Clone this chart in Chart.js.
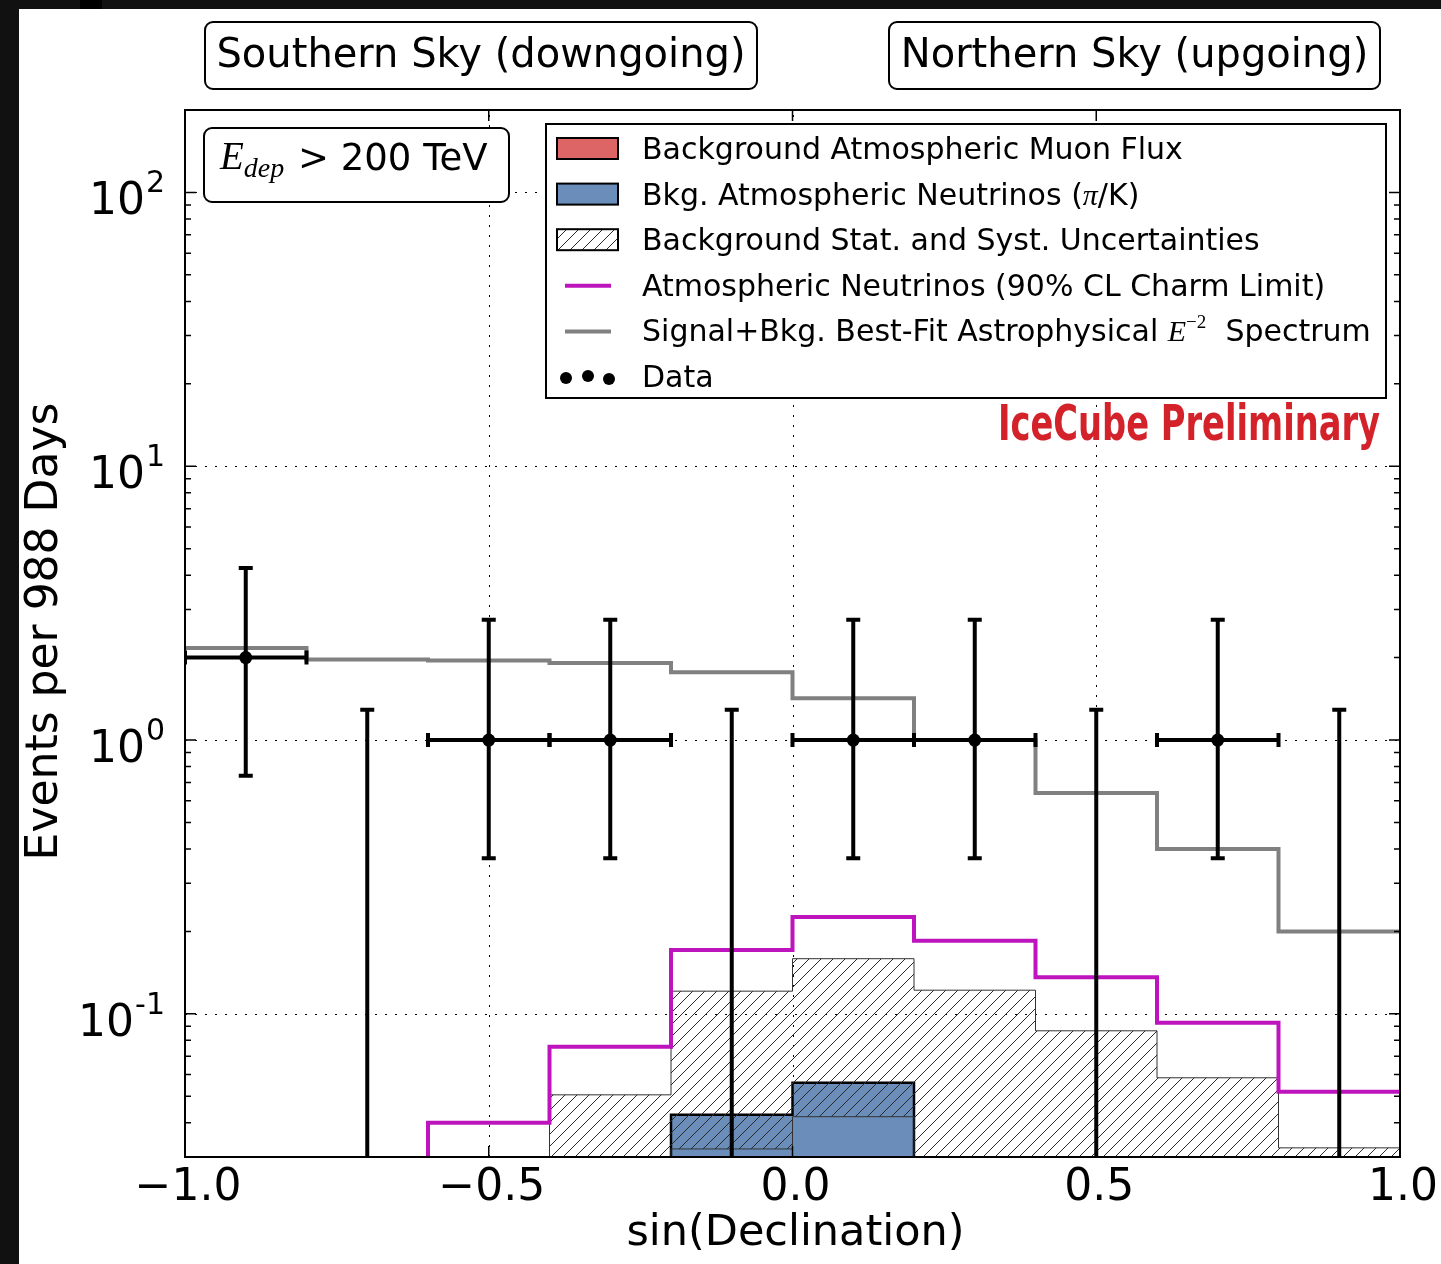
<!DOCTYPE html>
<html>
<head>
<meta charset="utf-8">
<title>Events per 988 Days vs sin(Declination)</title>
<script src="https://cdn.jsdelivr.net/npm/chart.js@4.4.0/dist/chart.umd.min.js"></script>
<style>
  body { margin: 0; background: #111; width: 1441px; height: 1264px; overflow: hidden; position: relative; }
  #tab { position: absolute; left: 80px; top: 0; width: 22px; height: 9px; background: #000; }
  #wrap { position: absolute; left: 19px; top: 9px; width: 1422px; height: 1255px; background: #fff; }
  canvas { display: block; }
</style>
</head>
<body>
<div id="tab"></div>
<div id="wrap"><canvas id="chart_div" width="1422" height="1255"></canvas></div>
<script>
// bins in sin(declination), 10 bins of 0.2
var binEdges = [-1.0, -0.8, -0.6, -0.4, -0.2, 0.0, 0.2, 0.4, 0.6, 0.8, 1.0];

// expected events per bin (values under 0.03 sit below the plotted range)
var muonFlux   = [0, 0, 0, 0, 0, 0, 0, 0, 0, 0];
var atmNuPiK   = [0.004, 0.005, 0.007, 0.012, 0.0428, 0.056, 0.024, 0.016, 0.011, 0.008];
var bkgErrLow  = [0.003, 0.004, 0.005, 0.01, 0.0321, 0.0421, 0.015, 0.011, 0.008, 0.005];
var bkgErrHigh = [0.008, 0.012, 0.02, 0.0506, 0.121, 0.159, 0.122, 0.0867, 0.0584, 0.0324];
var charmLimit = [0.012, 0.02, 0.040, 0.0758, 0.171, 0.226, 0.185, 0.136, 0.0927, 0.0519];
var bestFitE2  = [2.17, 1.97, 1.95, 1.91, 1.77, 1.42, 1.0, 0.64, 0.40, 0.20];

// observed events with 68% Feldman-Cousins intervals
var dataCenters = [-0.9, -0.7, -0.5, -0.3, -0.1, 0.1, 0.3, 0.5, 0.7, 0.9];
var dataCounts  = [2, 0, 1, 1, 0, 1, 1, 0, 1, 0];
var dataErrLow  = [0.74, 0, 0.37, 0.37, 0, 0.37, 0.37, 0, 0.37, 0];
var dataErrHigh = [4.25, 1.29, 2.75, 2.75, 1.29, 2.75, 2.75, 1.29, 2.75, 1.29];

var xTickValues = [-1.0, -0.5, 0.0, 0.5, 1.0];
var xTickLabels = ['\u22121.0', '\u22120.5', '0.0', '0.5', '1.0'];
var yTickValues = [0.1, 1, 10, 100];
var yTickExps   = ['-1', '0', '1', '2'];

var yMin = 0.03, yMax = 200;
var SANS = '"DejaVu Sans", sans-serif';
var SERIF = '"Liberation Serif", "DejaVu Serif", serif';

// one point per left edge plus the closing edge; 'before' keeps each value over its own bin
function toSteps(vals){
  var pts = [];
  for (var i = 0; i < vals.length; i++) pts.push({x: binEdges[i], y: vals[i]});
  pts.push({x: binEdges[vals.length], y: vals[vals.length - 1]});
  return pts;
}

function makeHatch(){
  var c = document.createElement('canvas');
  c.width = 12; c.height = 12;
  var g = c.getContext('2d');
  g.strokeStyle = '#2a2a2a';
  g.lineWidth = 1;
  g.beginPath();
  g.moveTo(0, 12); g.lineTo(12, 0);
  g.moveTo(-6, 6); g.lineTo(6, -6);
  g.moveTo(6, 18); g.lineTo(18, 6);
  g.stroke();
  return g.createPattern(c, 'repeat');
}

function roundBox(c, x, y, w, h, r){
  c.beginPath();
  c.moveTo(x + r, y);
  c.arcTo(x + w, y, x + w, y + h, r);
  c.arcTo(x + w, y + h, x, y + h, r);
  c.arcTo(x, y + h, x, y, r);
  c.arcTo(x, y, x + w, y, r);
  c.closePath();
}

// draws text pieces one after another (for math bits)
function drawRuns(c, x, y, runs){
  for (var i = 0; i < runs.length; i++){
    var r = runs[i];
    c.font = r.font;
    c.fillText(r.text, x, y - (r.rise || 0));
    x += c.measureText(r.text).width;
  }
  return x;
}

var hatch = makeHatch();

var dataPoints = dataCenters.map(function(x, i){
  return {x: x, y: dataCounts[i] > 0 ? dataCounts[i] : null};
});

var gridPlugin = {
  id: 'dottedGrid',
  beforeDatasetsDraw: function(chart){
    var c = chart.ctx, ca = chart.chartArea;
    var xs = chart.scales.x, ys = chart.scales.y;
    c.save();
    c.strokeStyle = '#000';
    c.lineWidth = 1;
    c.setLineDash([2, 8]);
    xTickValues.forEach(function(v){
      var px = Math.round(xs.getPixelForValue(v)) + 0.5;
      if (px <= ca.left + 1 || px >= ca.right - 1) return;
      c.beginPath(); c.moveTo(px, ca.bottom); c.lineTo(px, ca.top); c.stroke();
    });
    yTickValues.forEach(function(v){
      var py = Math.round(ys.getPixelForValue(v)) + 0.5;
      c.beginPath(); c.moveTo(ca.left, py); c.lineTo(ca.right, py); c.stroke();
    });
    c.restore();
  }
};

var errorBarPlugin = {
  id: 'errorBars',
  afterDatasetsDraw: function(chart){
    var c = chart.ctx, ca = chart.chartArea;
    var xs = chart.scales.x, ys = chart.scales.y;
    var cap = 7, half = (binEdges[1] - binEdges[0]) / 2;
    c.save();
    c.beginPath(); c.rect(ca.left, ca.top, ca.right - ca.left, ca.bottom - ca.top); c.clip();
    c.strokeStyle = '#000';
    c.lineWidth = 4;
    c.lineCap = 'butt';
    for (var i = 0; i < dataCenters.length; i++){
      var px = xs.getPixelForValue(dataCenters[i]);
      var yTop = ys.getPixelForValue(dataErrHigh[i]);
      var yBot = dataErrLow[i] > 0 ? ys.getPixelForValue(dataErrLow[i]) : ca.bottom + 4;
      c.beginPath();
      c.moveTo(px, yBot); c.lineTo(px, yTop);
      c.moveTo(px - cap, yTop); c.lineTo(px + cap, yTop);
      if (dataErrLow[i] > 0){ c.moveTo(px - cap, yBot); c.lineTo(px + cap, yBot); }
      if (dataCounts[i] > 0){
        var yc = ys.getPixelForValue(dataCounts[i]);
        var xl = xs.getPixelForValue(dataCenters[i] - half);
        var xr = xs.getPixelForValue(dataCenters[i] + half);
        c.moveTo(xl, yc); c.lineTo(xr, yc);
        c.moveTo(xl, yc - cap); c.lineTo(xl, yc + cap);
        c.moveTo(xr, yc - cap); c.lineTo(xr, yc + cap);
      }
      c.stroke();
    }
    c.restore();
  }
};

var decorPlugin = {
  id: 'decor',
  afterDraw: function(chart){
    var c = chart.ctx, ca = chart.chartArea;
    var xs = chart.scales.x, ys = chart.scales.y;
    var ds = chart.data.datasets;
    c.save();

    // frame and inward ticks
    c.strokeStyle = '#000';
    c.lineWidth = 1.5;
    c.beginPath();
    ys.ticks.forEach(function(t){
      var py = ys.getPixelForValue(t.value);
      var len = t.major ? 11 : 6;
      c.moveTo(ca.left, py); c.lineTo(ca.left + len, py);
      c.moveTo(ca.right, py); c.lineTo(ca.right - len, py);
    });
    xTickValues.forEach(function(v){
      var px = xs.getPixelForValue(v);
      c.moveTo(px, ca.bottom); c.lineTo(px, ca.bottom - 11);
      c.moveTo(px, ca.top); c.lineTo(px, ca.top + 11);
    });
    c.stroke();
    c.lineWidth = 2;
    c.strokeRect(ca.left, ca.top, ca.right - ca.left, ca.bottom - ca.top);

    // tick labels
    c.fillStyle = '#000';
    c.textBaseline = 'alphabetic';
    c.textAlign = 'right';
    yTickValues.forEach(function(v, i){
      var py = ys.getPixelForValue(v);
      var xr = ca.left - 20;
      c.font = '30px ' + SANS;
      c.fillText(yTickExps[i], xr, py);
      var ew = c.measureText(yTickExps[i]).width;
      c.font = '44px ' + SANS;
      c.fillText('10', xr - ew - 1, py + 22);
    });
    c.textAlign = 'center';
    c.font = '44px ' + SANS;
    xTickValues.forEach(function(v, i){
      c.fillText(xTickLabels[i], xs.getPixelForValue(v) + 3, ca.bottom + 43);
    });

    // axis titles
    c.font = '43px ' + SANS;
    c.fillText('sin(Declination)', (ca.left + ca.right) / 2 + 3, ca.bottom + 88);
    c.save();
    c.translate(38, (ca.top + ca.bottom) / 2 - 2);
    c.rotate(-Math.PI / 2);
    c.font = '44px ' + SANS;
    c.fillText('Events per 988 Days', 0, 0);
    c.restore();

    // hemisphere boxes above the plot
    c.lineWidth = 2;
    c.font = '40px ' + SANS;
    [['Southern Sky (downgoing)', ca.left + 20, 552], ['Northern Sky (upgoing)', ca.left + 704, 491]].forEach(function(b){
      roundBox(c, b[1], 13, b[2], 67, 8);
      c.fillStyle = '#fff'; c.fill(); c.stroke();
      c.fillStyle = '#000';
      c.fillText(b[0], b[1] + b[2] / 2, 58);
    });

    // energy cut box
    roundBox(c, ca.left + 19, ca.top + 18, 305, 74, 8);
    c.fillStyle = '#fff'; c.fill(); c.stroke();
    c.fillStyle = '#000';
    c.textAlign = 'left';
    var ex = drawRuns(c, ca.left + 35, ca.top + 59, [
      {text: 'E', font: 'italic 39px ' + SERIF},
      {text: 'dep', font: 'italic 28px ' + SERIF, rise: -8}
    ]);
    c.font = '37px ' + SANS;
    c.fillText(' > 200 TeV', ex + 2, ca.top + 60);

    // legend
    var lx = ca.left + 361, ly = ca.top + 14, lw = 840, lh = 274;
    c.fillStyle = '#fff';
    c.fillRect(lx, ly, lw, lh);
    c.lineWidth = 2;
    c.strokeRect(lx, ly, lw, lh);
    var rows = [
      {kind: 'patch', fill: ds[0].backgroundColor, runs: [{text: 'Background Atmospheric Muon Flux'}]},
      {kind: 'patch', fill: ds[1].backgroundColor, runs: [{text: 'Bkg. Atmospheric Neutrinos ('}, {text: '\u03c0', font: 'italic 30px ' + SERIF}, {text: '/K)'}]},
      {kind: 'patch', fill: ds[3].backgroundColor, runs: [{text: 'Background Stat. and Syst. Uncertainties'}]},
      {kind: 'line', color: ds[4].borderColor, runs: [{text: 'Atmospheric Neutrinos (90% CL Charm Limit)'}]},
      {kind: 'line', color: ds[5].borderColor, runs: [{text: 'Signal+Bkg. Best-Fit Astrophysical '}, {text: 'E', font: 'italic 30px ' + SERIF}, {text: '\u22122', font: '19px ' + SERIF, rise: 13}, {text: '  Spectrum'}]},
      {kind: 'dots', runs: [{text: 'Data'}]}
    ];
    rows.forEach(function(r, i){
      var base = ly + 35 + i * 45.6;
      var hx = lx + 11;
      if (r.kind === 'patch'){
        c.fillStyle = '#fff';
        c.fillRect(hx, base - 21, 61, 21);
        c.fillStyle = r.fill;
        c.fillRect(hx, base - 21, 61, 21);
        c.lineWidth = 2;
        c.strokeStyle = '#000';
        c.strokeRect(hx, base - 21, 61, 21);
      } else if (r.kind === 'line'){
        c.strokeStyle = r.color;
        c.lineWidth = 4;
        c.beginPath(); c.moveTo(hx + 8, base - 10); c.lineTo(hx + 54, base - 10); c.stroke();
      } else {
        c.fillStyle = '#000';
        [[hx + 9, base - 9], [hx + 31, base - 11], [hx + 52, base - 8]].forEach(function(p){
          c.beginPath(); c.arc(p[0], p[1], 6, 0, Math.PI * 2); c.fill();
        });
      }
      c.fillStyle = '#000';
      drawRuns(c, lx + 96, base, r.runs.map(function(u){
        return {text: u.text, font: u.font || ('30px ' + SANS), rise: u.rise};
      }));
    });

    // preliminary tag
    var tag = 'IceCube Preliminary';
    c.font = 'bold 49px "Liberation Sans Narrow", "DejaVu Sans Condensed", sans-serif';
    var tw = c.measureText(tag).width;
    c.save();
    c.translate(ca.right - 402, ca.top + 330);
    c.scale(382 / tw, 1);
    c.fillStyle = '#d3222a';
    c.fillText(tag, 0, 0);
    c.restore();

    c.restore();
  }
};

var ctx = document.getElementById('chart_div').getContext('2d');
var chart = new Chart(ctx, {
  type: 'line',
  data: {
    datasets: [
      {label: 'Background Atmospheric Muon Flux', data: toSteps(muonFlux), stepped: 'before', fill: 'start',
       backgroundColor: '#de6565', borderColor: '#000', borderWidth: 0, pointRadius: 0, order: 7},
      {label: 'Bkg. Atmospheric Neutrinos (pi/K)', data: toSteps(atmNuPiK), stepped: 'before', fill: 'start',
       backgroundColor: '#6a8eb9', borderColor: '#000', borderWidth: 2.5, pointRadius: 0, order: 6},
      {label: 'uncertainty low', data: toSteps(bkgErrLow), stepped: 'before', fill: false,
       borderColor: '#333', borderWidth: 1, pointRadius: 0, order: 5},
      {label: 'Background Stat. and Syst. Uncertainties', data: toSteps(bkgErrHigh), stepped: 'before', fill: '-1',
       backgroundColor: hatch, borderColor: '#333', borderWidth: 1, pointRadius: 0, order: 4},
      {label: 'Atmospheric Neutrinos (90% CL Charm Limit)', data: toSteps(charmLimit), stepped: 'before', fill: false,
       borderColor: '#bd14bd', borderWidth: 4, pointRadius: 0, order: 3},
      {label: 'Signal+Bkg. Best-Fit Astrophysical E^-2 Spectrum', data: toSteps(bestFitE2), stepped: 'before', fill: false,
       borderColor: '#808080', borderWidth: 4, pointRadius: 0, order: 2},
      {label: 'Data', data: dataPoints, showLine: false, pointRadius: 6.5, pointBackgroundColor: '#000',
       pointBorderWidth: 0, order: 1}
    ]
  },
  options: {
    responsive: false,
    animation: false,
    layout: {padding: {left: 0, right: 41, top: 101, bottom: 0}},
    plugins: {legend: {display: false}, tooltip: {enabled: false}},
    scales: {
      x: {
        type: 'linear', min: -1, max: 1,
        ticks: {display: false, stepSize: 0.5},
        grid: {display: false},
        border: {display: false},
        afterFit: function(s){ s.height = 107; }
      },
      y: {
        type: 'logarithmic', min: yMin, max: yMax,
        ticks: {display: false},
        grid: {display: false},
        border: {display: false},
        afterBuildTicks: function(s){
          var t = [];
          for (var e = -2; e <= 2; e++){
            for (var m = 1; m <= 9; m++){
              var v = m * Math.pow(10, e);
              if (v >= yMin * 0.999 && v <= yMax * 1.001) t.push({value: v, major: m === 1});
            }
          }
          s.ticks = t;
        },
        afterFit: function(s){ s.width = 166; }
      }
    }
  },
  plugins: [gridPlugin, errorBarPlugin, decorPlugin]
});
</script>
</body>
</html>
